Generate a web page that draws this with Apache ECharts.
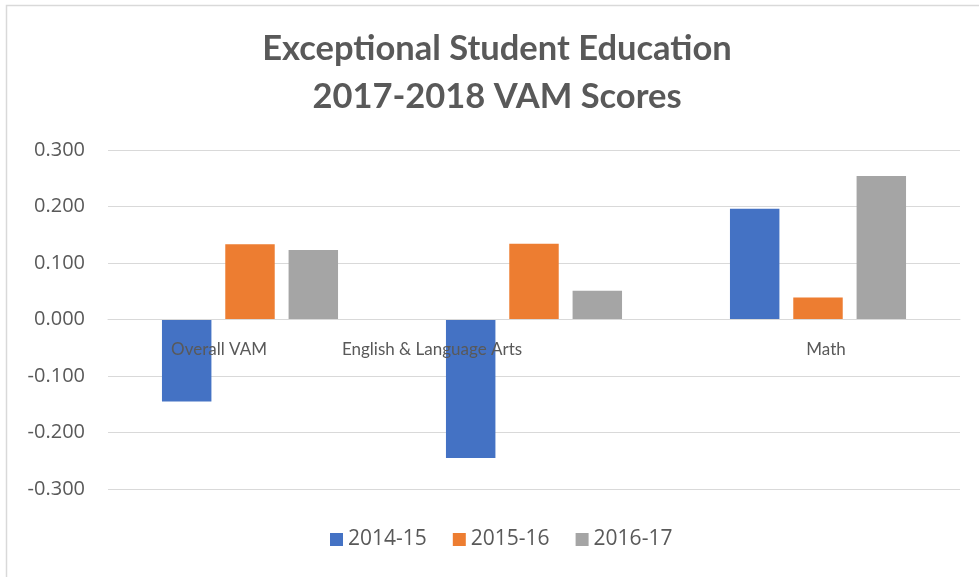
<!DOCTYPE html>
<html>
<head>
<meta charset="utf-8">
<script src="https://cdn.jsdelivr.net/npm/echarts@6/dist/echarts.min.js"></script>
<style>
  html, body { margin: 0; padding: 0; background: #fff; }
  #chart { width: 979px; height: 577px; }
</style>
</head>
<body>
<div id="chart"></div>
<script>
const categories = ['Overall VAM', 'English & Language Arts', 'Math']
const seriesNames = ['2014-15', '2015-16', '2016-17']
const values2014 = [-0.145, -0.245, 0.196]
const values2015 = [0.133, 0.134, 0.039]
const values2016 = [0.123, 0.051, 0.254]
const colors = ['#4472C4', '#ED7D31', '#A5A5A5']

// the original labels do not sit centred under their groups; nudge them (px)
const labelShift = [-31, -102, 8]

const chart = echarts.init(document.getElementById('chart'))
const font = 'Lato, "Open Sans", sans-serif'
const numFont = '"Open Sans", sans-serif'

// grid height 339px, zero sits in the middle -> move category axis up to it
const gridTop = 150
const gridBottom = 88
const zeroOffset = -(577 - gridTop - gridBottom) / 2

const option = {
  textStyle: { fontFamily: font },
  color: colors,
  graphic: [
    {
      type: 'rect',
      shape: { x: 6.5, y: 5.5, width: 985, height: 585 },
      style: { fill: 'none', stroke: '#d9d9d9', lineWidth: 1.5 },
      silent: true,
    },
  ],
  title: {
    text: 'Exceptional Student Education\n2017-2018 VAM Scores',
    left: 492,
    textAlign: 'center',
    top: 20,
    textStyle: {
      fontFamily: font,
      fontSize: 34.5,
      fontWeight: 'bold',
      color: '#595959',
      lineHeight: 48,
    },
  },
  grid: {
    left: 108,
    right: 19,
    top: gridTop,
    bottom: gridBottom,
  },
  legend: {
    bottom: 22,
    left: 325,
    itemWidth: 13,
    itemHeight: 13,
    itemGap: 26,
    icon: 'rect',
    textStyle: { fontSize: 21, color: '#595959', fontFamily: numFont },
    data: seriesNames,
  },
  xAxis: {
    type: 'category',
    z: 5,
    data: categories.map(function (name, i) {
      const s = labelShift[i]
      return {
        value: name,
        textStyle: { padding: s < 0 ? [0, -2 * s, 0, 0] : [0, 0, 0, 2 * s] },
      }
    }),
    offset: zeroOffset,
    axisLine: { show: true, onZero: false, lineStyle: { color: '#d9d9d9', width: 1 } },
    axisTick: { show: false },
    axisLabel: { fontSize: 17, color: '#595959', margin: 22, fontFamily: font },
  },
  yAxis: {
    type: 'value',
    min: -0.3,
    max: 0.3,
    interval: 0.1,
    axisLine: { show: false },
    axisTick: { show: false },
    axisLabel: {
      fontSize: 20,
      color: '#595959',
      margin: 23,
      fontFamily: numFont,
      formatter: function (v) {
        return v.toFixed(3)
      },
    },
    splitLine: { lineStyle: { color: '#d9d9d9', width: 1 } },
  },
  series: [
    { name: seriesNames[0], type: 'bar', data: values2014, barGap: '28%', barCategoryGap: '38%' },
    { name: seriesNames[1], type: 'bar', data: values2015, barGap: '28%', barCategoryGap: '38%' },
    { name: seriesNames[2], type: 'bar', data: values2016, barGap: '28%', barCategoryGap: '38%' },
  ],
}
chart.setOption(option)
</script>
</body>
</html>
